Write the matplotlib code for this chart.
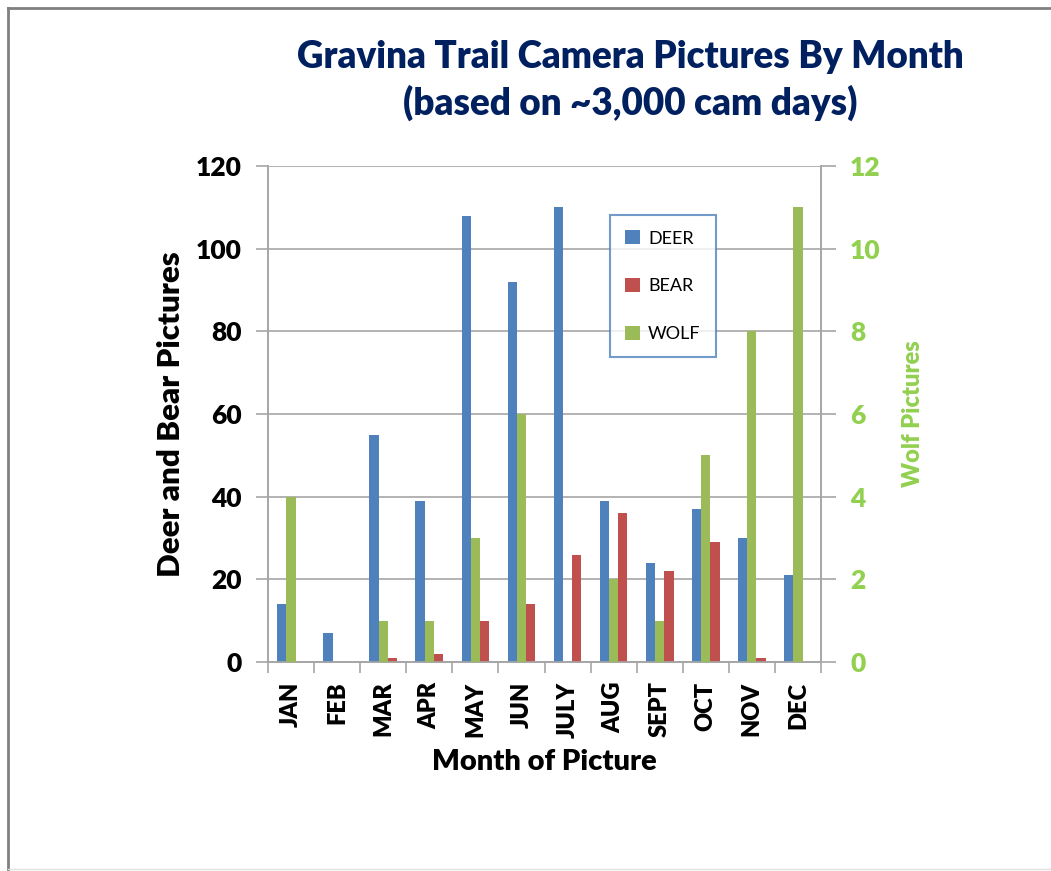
import numpy as np
import matplotlib.pyplot as plt
from matplotlib.lines import Line2D

months = ['JAN', 'FEB', 'MAR', 'APR', 'MAY', 'JUN', 'JULY', 'AUG', 'SEPT', 'OCT', 'NOV', 'DEC']
deer = [14, 7, 55, 39, 108, 92, 110, 39, 24, 37, 30, 21]
bear = [0, 0, 1, 2, 10, 14, 26, 36, 22, 29, 1, 0]
wolf = [4, 0, 1, 1, 3, 6, 0, 2, 1, 5, 8, 11]

plt.rcParams['font.family'] = ['Lato', 'DejaVu Sans']

blue = '#4F81BD'
red = '#C0504D'
green = '#9BBB59'
label_green = '#92D050'
navy = '#002060'
heavy = 'heavy'

fig = plt.figure(figsize=(10.51, 8.71), dpi=100)
ax = fig.add_axes([268 / 1051, 1 - 662 / 871, (821 - 268) / 1051, (662 - 166) / 871])
ax2 = ax.twinx()

x = np.arange(len(months))
w = 0.2
b1 = ax.bar(x - w, deer, w, color=blue, label='DEER', zorder=3)
b2 = ax.bar(x + w, bear, w, color=red, label='BEAR', zorder=3)
b3 = ax2.bar(x, wolf, w, color=green, label='WOLF', zorder=3)

ax.set_xlim(-0.5, len(months) - 0.5)
ax.set_ylim(0, 120)
ax.set_yticks(range(0, 121, 20))
ax2.set_ylim(0, 12)
ax2.set_yticks(range(0, 13, 2))
ax.yaxis.grid(True, color='#A6A6A6', linewidth=1.2, zorder=0)
ax.set_axisbelow(True)

for a in (ax, ax2):
    for s in a.spines.values():
        s.set_color('#A6A6A6')
        s.set_linewidth(1.2)
    a.spines['top'].set_visible(False)

ax.set_xticks(np.arange(len(months) + 1) - 0.5, minor=True)
ax.set_xticks(x)
ax.set_xticklabels(months, rotation=90, fontsize=17, fontweight=heavy)
ax.tick_params(axis='x', which='major', length=0, pad=14)
ax.tick_params(axis='x', which='minor', length=8, color='#A6A6A6', width=1.2)
ax.tick_params(axis='y', length=9, color='#A6A6A6', width=1.2, labelsize=19, pad=10)
for t in ax.get_yticklabels():
    t.set_fontweight(heavy)
ax2.tick_params(axis='y', length=11, color='#A6A6A6', width=1.2, labelsize=19,
                labelcolor=label_green, pad=10)
for t in ax2.get_yticklabels():
    t.set_fontweight(heavy)

ax.set_xlabel('Month of Picture', fontsize=21, fontweight=heavy)
ax.xaxis.label.set_va('center')
ax.xaxis.set_label_coords(0.5, -100 / 496)
ax.set_ylabel('Deer and Bear Pictures', fontsize=22.5, fontweight=heavy, labelpad=8)
ax2.set_ylabel('Wolf Pictures', fontsize=17, fontweight=heavy, color=label_green, labelpad=15)

fig.text(0.600, 1 - 57 / 871, 'Gravina Trail Camera Pictures By Month', ha='center', va='center',
         fontsize=26.5, fontweight=heavy, color=navy)
fig.text(0.600, 1 - 103 / 871, '(based on ~3,000 cam days)', ha='center', va='center',
         fontsize=26.5, fontweight=heavy, color=navy)

leg = ax.legend([b1, b2, b3], ['DEER', 'BEAR', 'WOLF'],
                loc='upper left', bbox_to_anchor=((610 - 268) / 553, 1 - (215 - 166) / 496),
                frameon=True, fancybox=False, fontsize=13, labelspacing=1.75,
                handlelength=0.8, handleheight=0.8, handletextpad=0.45,
                borderpad=0.85, borderaxespad=0)
leg.get_frame().set_edgecolor(blue)
leg.get_frame().set_linewidth(1.5)
leg.set_zorder(10)

# figure border (top, left, bottom)
fig.add_artist(Line2D([8 / 1051, 1], [1 - 8 / 871, 1 - 8 / 871], transform=fig.transFigure,
                      color='#808080', linewidth=2))
fig.add_artist(Line2D([8 / 1051, 8 / 1051], [1 - 8 / 871, 0], transform=fig.transFigure,
                      color='#808080', linewidth=2))
fig.add_artist(Line2D([8 / 1051, 1], [2 / 871, 2 / 871], transform=fig.transFigure,
                      color='#E0E0E0', linewidth=1))

fig.savefig('out.png', dpi=100)
